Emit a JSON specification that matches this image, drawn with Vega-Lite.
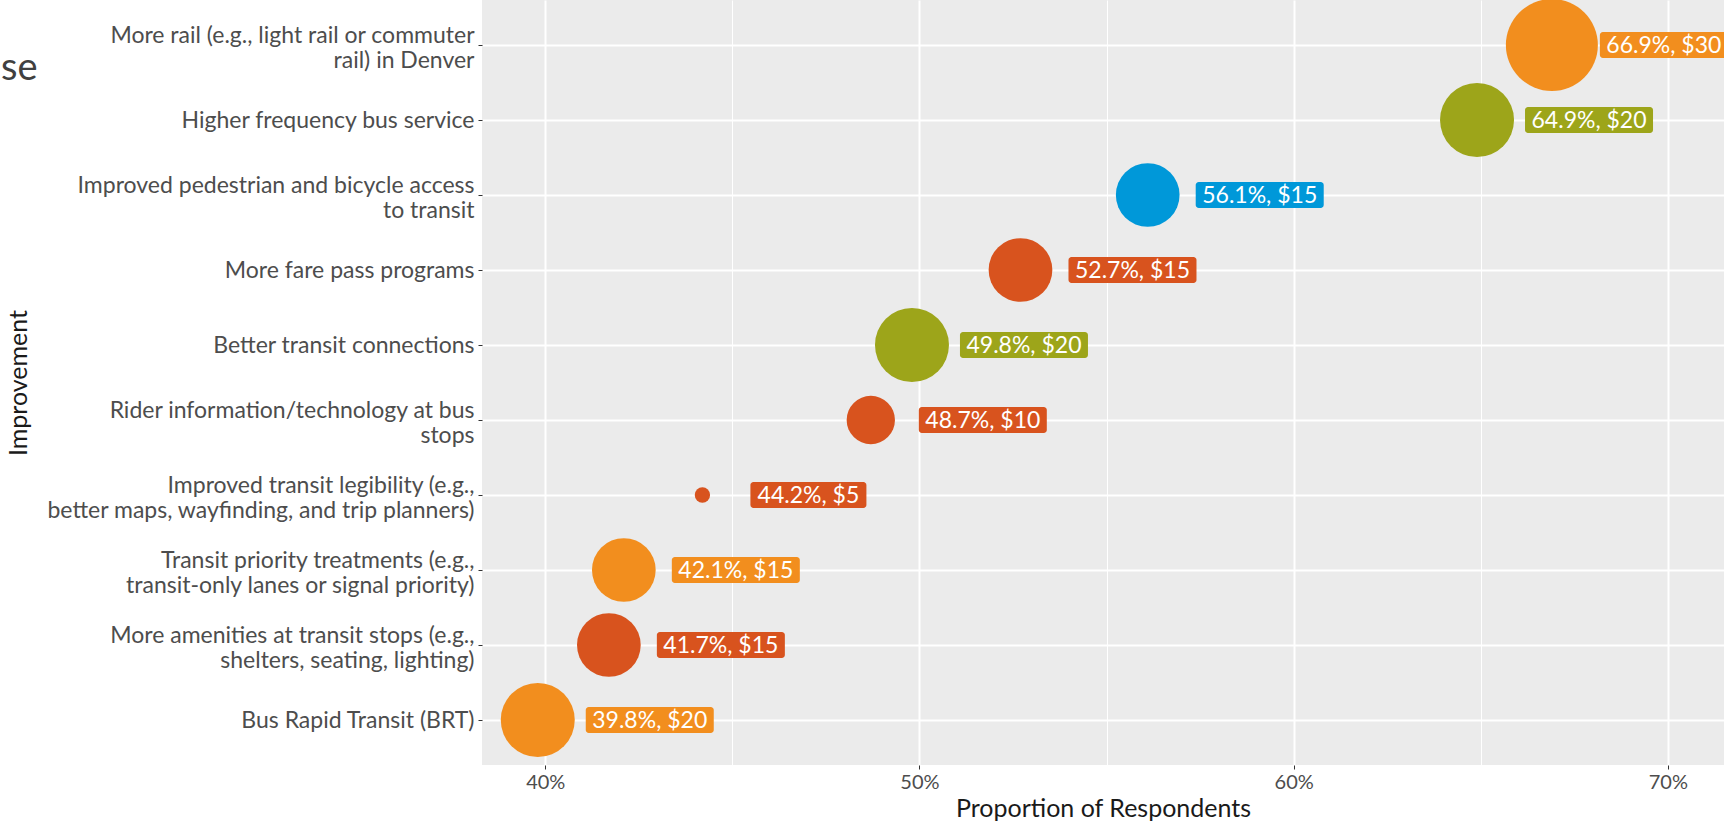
{
  "$schema": "https://vega.github.io/schema/vega-lite/v6.json",
  "autosize": {"type": "none"},
  "width": 1242,
  "height": 765,
  "padding": {"left": 482, "top": 0, "right": 0, "bottom": 61},
  "background": "#FFFFFF",
  "title": {"text": "se", "anchor": "start", "frame": "group", "orient": "top", "dx": -481, "dy": 123, "baseline": "alphabetic", "fontSize": 38, "font": "Lato", "fontWeight": "normal", "color": "#404040"},
  "data": {"values": [
    {"improvement": "More rail (e.g., light rail or commuter\nrail) in Denver", "pct": 0.669, "price": 30, "label": "66.9%, $30", "group": "Rail and rapid transit"},
    {"improvement": "Higher frequency bus service", "pct": 0.649, "price": 20, "label": "64.9%, $20", "group": "Bus service"},
    {"improvement": "Improved pedestrian and bicycle access\nto transit", "pct": 0.561, "price": 15, "label": "56.1%, $15", "group": "Access"},
    {"improvement": "More fare pass programs", "pct": 0.527, "price": 15, "label": "52.7%, $15", "group": "Rider experience"},
    {"improvement": "Better transit connections", "pct": 0.498, "price": 20, "label": "49.8%, $20", "group": "Bus service"},
    {"improvement": "Rider information/technology at bus\nstops", "pct": 0.487, "price": 10, "label": "48.7%, $10", "group": "Rider experience"},
    {"improvement": "Improved transit legibility (e.g.,\nbetter maps, wayfinding, and trip planners)", "pct": 0.442, "price": 5, "label": "44.2%, $5", "group": "Rider experience"},
    {"improvement": "Transit priority treatments (e.g.,\ntransit-only lanes or signal priority)", "pct": 0.421, "price": 15, "label": "42.1%, $15", "group": "Rail and rapid transit"},
    {"improvement": "More amenities at transit stops (e.g.,\nshelters, seating, lighting)", "pct": 0.417, "price": 15, "label": "41.7%, $15", "group": "Rider experience"},
    {"improvement": "Bus Rapid Transit (BRT)", "pct": 0.398, "price": 20, "label": "39.8%, $20", "group": "Rail and rapid transit"}
  ]},
  "encoding": {
    "y": {
      "field": "improvement", "type": "nominal", "sort": null,
      "scale": {"type": "point", "padding": 0.6},
      "axis": {
        "title": "Improvement", "titleFont": "Lato", "titleFontSize": 25, "titleFontWeight": "normal", "titleColor": "#1A1A1A",
        "titleX": -464, "titleAnchor": "middle", "titleBaseline": "middle", "titleAngle": -90,
        "labelExpr": "split(datum.label, '\\n')",
        "labelFont": "Lato", "labelFontSize": 23, "labelColor": "#4D4D4D", "labelLineHeight": 25, "labelPadding": 4, "labelLimit": 600,
        "labelOffset": {"condition": {"test": "indexof(datum.value, '\\n') >= 0", "value": -10}, "value": 0},
        "domain": false, "ticks": true, "tickSize": 4, "tickColor": "#333333", "tickWidth": 1,
        "grid": true, "gridColor": "#FFFFFF", "gridWidth": 2
      }
    },
    "x": {
      "field": "pct", "type": "quantitative",
      "scale": {"domain": [0.3831, 0.715], "nice": false, "zero": false},
      "axis": {
        "title": "Proportion of Respondents", "titleFont": "Lato", "titleFontSize": 25, "titleFontWeight": "normal", "titleColor": "#1A1A1A", "titlePadding": 4,
        "values": [0.40, 0.45, 0.50, 0.55, 0.60, 0.65, 0.70],
        "labelExpr": "(round(datum.value * 100) % 10) != 0 ? '' : format(datum.value, '.0%')",
        "labelFont": "Lato", "labelFontSize": 20, "labelColor": "#4D4D4D", "labelPadding": 3,
        "domain": false, "tickSize": 4, "tickColor": "#333333",
        "tickOpacity": {"condition": {"test": "(round(datum.value * 100) % 10) != 0", "value": 0}, "value": 1},
        "grid": true, "gridColor": "#FFFFFF",
        "gridWidth": {"condition": {"test": "(round(datum.value * 100) % 10) != 0", "value": 1}, "value": 2}
      }
    }
  },
  "layer": [
    {
      "mark": {"type": "circle", "opacity": 1, "stroke": null},
      "encoding": {
        "size": {"field": "price", "type": "quantitative", "legend": null,
          "scale": {"domain": [5, 10, 15, 20, 30], "range": [234, 2333, 4058, 5476, 8464]}},
        "color": {"field": "group", "type": "nominal", "legend": null,
          "scale": {"domain": ["Rail and rapid transit", "Bus service", "Access", "Rider experience"], "range": ["#F28E1E", "#9DA51A", "#0098D9", "#D8531E"]}}
      }
    },
    {
      "transform": [{"filter": "datum.price >= 10"}],
      "mark": {"type": "bar", "size": 26, "cornerRadius": 3, "xOffset": 48, "x2Offset": 176, "clip": true},
      "encoding": {
        "x2": {"field": "pct"},
        "color": {"field": "group", "type": "nominal", "legend": null}
      }
    },
    {
      "transform": [{"filter": "datum.price < 10"}],
      "mark": {"type": "bar", "size": 26, "cornerRadius": 3, "xOffset": 48, "x2Offset": 164, "clip": true},
      "encoding": {
        "x2": {"field": "pct"},
        "color": {"field": "group", "type": "nominal", "legend": null}
      }
    },
    {
      "transform": [{"filter": "datum.price >= 10"}],
      "mark": {"type": "text", "align": "center", "baseline": "middle", "dx": 112, "dy": 1, "font": "Lato", "fontSize": 23, "color": "#FFFFFF", "clip": true},
      "encoding": {"text": {"field": "label"}}
    },
    {
      "transform": [{"filter": "datum.price < 10"}],
      "mark": {"type": "text", "align": "center", "baseline": "middle", "dx": 106, "dy": 1, "font": "Lato", "fontSize": 23, "color": "#FFFFFF", "clip": true},
      "encoding": {"text": {"field": "label"}}
    }
  ],
  "config": {
    "view": {"fill": "#EBEBEB", "stroke": null}
  }
}
